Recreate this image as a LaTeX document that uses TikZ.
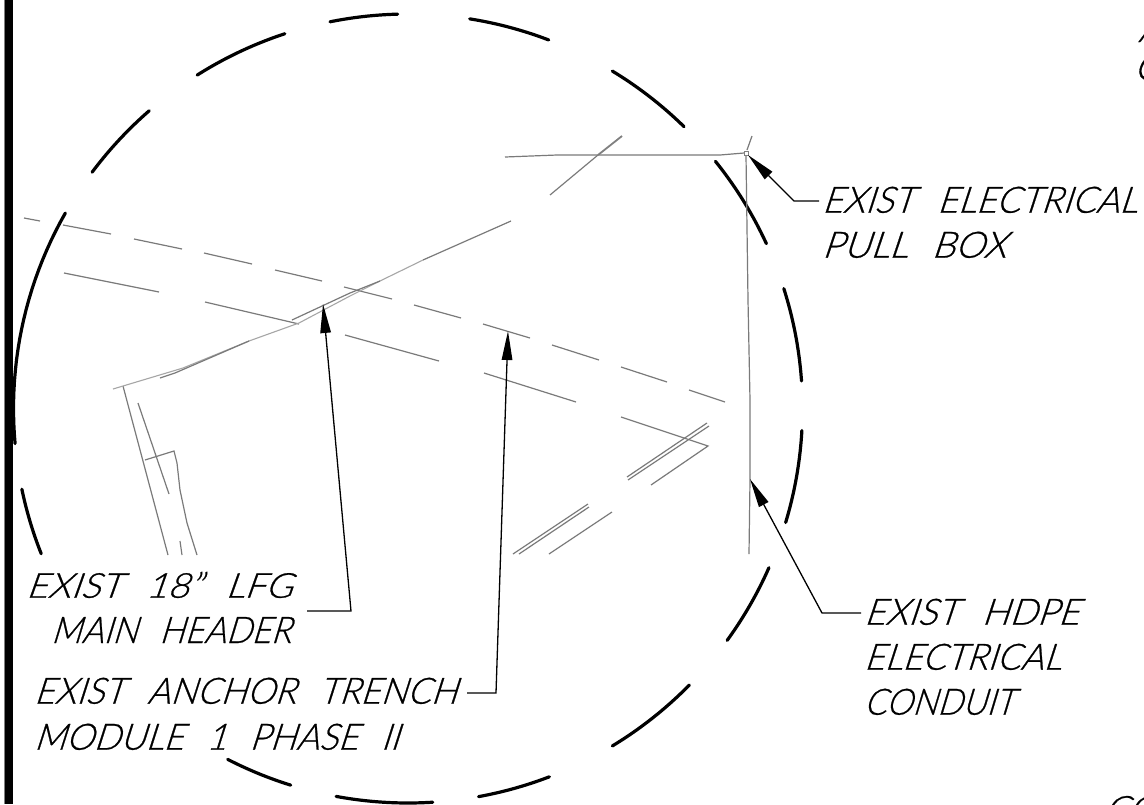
\documentclass[tikz,border=0pt]{standalone}
\usepackage{fontspec}
\usepackage{graphicx}
\usetikzlibrary{arrows.meta}
\newfontfamily\cad[FakeSlant=0.33,WordSpace=2.4,FakeBold=0.7]{Lato Light}
\newcommand{\cadtext}[5]{\node[cadlabel] (#1) at (#2,#3) {\resizebox{#4pt}{26pt}{\cad\fontsize{36}{40}\selectfont #5}};}
\tikzset{
  cadlabel/.style={anchor=south west,inner sep=0pt,outer sep=0pt},
  ring/.style={line width=3.2pt,line cap=round,black},
  fine/.style={line width=1.2pt,color=black!52},
  pale/.style={line width=1.1pt,color=black!35},
  leader/.style={line width=1.3pt,black,-{Triangle[length=29pt,width=10.5pt]}},
}
\begin{document}
\begin{tikzpicture}[x=1pt,y=-1pt]
\useasboundingbox (0,0) rectangle (1144,804);
\clip (0,0) rectangle (1144,804);
\fill[white] (0,0) rectangle (1144,804);
% left border
\fill[black!50] (4,0) rectangle (5.3,804);
\fill[black] (5.3,0) rectangle (13.3,804);
% detail ring
\foreach \a/\b in {-101.4/-91.5,-81/-69.1,-58.8/-45.6,-38.8/-24.7,-17.7/-4,3.2/16.8,23.8/36,44.5/58.8,69/79.7,86.4/100.5,107.3/117.2,158.4/168.2,174.9/209.7,-143.2/-131,-122.3/-108.2}
  \draw[ring] plot[domain=\a:\b,samples=24] ({408+394.5*cos(\x)},{408.5+394.5*sin(\x)});
% upper dashed line
\foreach \p/\q in {{24,218}/{40,221},{63,225}/{111,234},{134,239}/{182,249},{204,253}/{252,264},{275,270}/{322,281},{344,287}/{392,299},{414,305}/{461,318},{483,324}/{530,338},{552,345}/{599,360},{621,367}/{667,382},{689,390}/{725,402},
  {64,273}/{159,292},{205,302}/{299,324},{345,335}/{439,361},{484,373}/{576,402},
  {707,423}/{627,477},{709,426}/{628,480},{588,504}/{513,554},{589,507}/{519,554},{612,512}/{549,554},
  {123,386}/{168,555},{138,403}/{169,494},{180,541}/{182,555},{423,260}/{511,221},{550,195}/{598,155}}
  \draw[fine] (\p) -- (\q);
\draw[fine] (621,417) -- (708,446) -- (651,485);
\draw[line width=1.8pt,color=black!50] (598,155) -- (622,136);
% main header
\draw[pale] (113,389) -- (183,368) -- (249,341) -- (299,323) -- (350,296) -- (380,281) -- (423,260);
\draw[fine] (160,378) -- (175,373) -- (249,341);
\draw[fine] (292,320) -- (350,293) -- (380,281);
% left laterals
\draw[fine] (145,460) -- (174,451) -- (177,463) -- (180,490) -- (187,523) -- (197,555);
% conduit
\draw[fine] (505,157) -- (557,155) -- (720,155) -- (744,153);
\draw[fine] (752,136) -- (747,150);
\draw[fine] (746,155) -- (748,300) -- (750,400) -- (750,480) -- (749,554);
\node[draw=black!50,fill=white,line width=1pt,minimum size=4pt,inner sep=0pt] (pullbox) at (746,153) {};
% labels
\cadtext{lbPull}{822}{213}{315}{EXIST ELECTRICAL}
\cadtext{lbPullb}{822}{258}{184}{PULL BOX}
\cadtext{lbLfg}{26}{598}{266}{EXIST 18” LFG}
\cadtext{lbMain}{51}{643}{240}{MAIN HEADER}
\cadtext{lbTrench}{34}{704}{423}{EXIST ANCHOR TRENCH}
\cadtext{lbModule}{34}{750}{365}{MODULE 1 PHASE II}
\cadtext{lbHdpe}{864}{625}{215}{EXIST HDPE}
\cadtext{lbElec}{864}{670}{197}{ELECTRICAL}
\cadtext{lbCond}{864}{715}{150}{CONDUIT}
\node[cadlabel] (clipA) at (1138,42) {\cad\fontsize{36}{40}\selectfont A};
\node[cadlabel] (clipC) at (1134,80) {\cad\fontsize{36}{40}\selectfont C};
\node[cadlabel] (clipCO) at (1104,822) {\cad\fontsize{36}{40}\selectfont CO};
% leaders
\coordinate (hdrEnd) at (307,611);
\coordinate (hdrElbow) at (351,611);
\coordinate (hdrTip) at (323,304);
\coordinate (trEnd) at (467,693);
\coordinate (trElbow) at (496,693);
\coordinate (trTip) at (508,331);
\coordinate (pbEnd) at (819,201);
\coordinate (pbElbow) at (794,201);
\coordinate (pbTip) at (748,155);
\coordinate (cdEnd) at (861,613);
\coordinate (cdElbow) at (822,613);
\coordinate (cdTip) at (750,479);
\draw[leader] (hdrEnd) -- (hdrElbow) -- (hdrTip);
\draw[leader] (trEnd) -- (trElbow) -- (trTip);
\draw[leader] (pbEnd) -- (pbElbow) -- (pbTip);
\draw[leader] (cdEnd) -- (cdElbow) -- (cdTip);
\end{tikzpicture}
\end{document}
